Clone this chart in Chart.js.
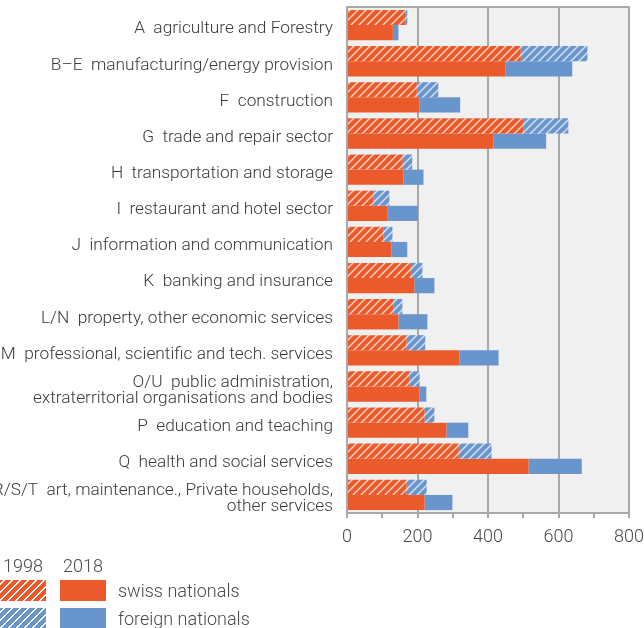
<!DOCTYPE html>
<html>
<head>
<meta charset="utf-8">
<script src="https://cdn.jsdelivr.net/npm/chart.js@4"></script>
<style>
  html, body { margin: 0; padding: 0; background: #fff; overflow: hidden; }
  #wrap { position: relative; width: 644px; height: 628px; }
  #legend { position: absolute; left: 0; top: 0; width: 644px; height: 628px; pointer-events: none;
    font-family: Roboto, sans-serif; font-weight: 300; font-size: 18px; color: #4a4a4a; }
  .lg { position: absolute; line-height: 20px; }
  .sw { position: absolute; height: 21px; }
</style>
</head>
<body>
<div id="wrap">
  <canvas id="myChart" width="644" height="628"></canvas>
  <div id="legend"></div>
</div>
<script>
var categories = [
  "A  agriculture and Forestry",
  "B\u2013E  manufacturing/energy provision",
  "F  construction",
  "G  trade and repair sector",
  "H  transportation and storage",
  "I  restaurant and hotel sector",
  "J  information and communication",
  "K  banking and insurance",
  "L/N  property, other economic services",
  "M  professional, scientific and tech. services",
  ["O/U  public administration,", "extraterritorial organisations and bodies"],
  "P  education and teaching",
  "Q  health and social services",
  ["R/S/T  art, maintenance., Private households,", "other services"]
];

// 1998 (hatched)
var swiss1998 = [165, 493, 198, 500, 158, 75, 103, 181, 132, 169, 177, 220, 317, 169];
var foreign1998 = [6, 189, 61, 128, 27, 45, 26, 33, 25, 53, 29, 28, 93, 57];
// 2018 (solid)
var swiss2018 = [130, 449, 205, 415, 160, 114, 126, 191, 146, 319, 205, 282, 515, 220];
var foreign2018 = [16, 190, 116, 150, 57, 87, 45, 57, 82, 111, 20, 62, 151, 79];

var xTicks = [0, 200, 400, 600, 800];

var ORANGE = "#EA5A2B";
var BLUE = "#6995CD";
var GRID = "#A8A8A8";

function hatch(color) {
  var c = document.createElement("canvas");
  c.width = 8;
  c.height = 8;
  var g = c.getContext("2d");
  g.fillStyle = color;
  g.fillRect(0, 0, 8, 8);
  g.strokeStyle = "rgba(255,255,255,0.75)";
  g.lineWidth = 1.4;
  g.beginPath();
  g.moveTo(0, 8); g.lineTo(8, 0);
  g.moveTo(-4, 4); g.lineTo(4, -4);
  g.moveTo(4, 12); g.lineTo(12, 4);
  g.stroke();
  return document.getElementById("myChart").getContext("2d").createPattern(c, "repeat");
}

// plot background + frame
var plotFrame = {
  id: "plotFrame",
  beforeDraw: function (chart) {
    var a = chart.chartArea, ctx = chart.ctx;
    ctx.save();
    ctx.fillStyle = "#F0F0F0";
    ctx.fillRect(a.left, a.top, a.right - a.left, a.bottom - a.top);
    ctx.restore();
  },
  afterDatasetsDraw: function (chart) {
    var a = chart.chartArea, ctx = chart.ctx;
    ctx.save();
    ctx.strokeStyle = GRID;
    ctx.lineWidth = 2;
    ctx.strokeRect(a.left, a.top, a.right - a.left, a.bottom - a.top);
    ctx.restore();
  }
};

var ctx = document.getElementById("myChart").getContext("2d");
var myChart = new Chart(ctx, {
  type: "bar",
  data: {
    labels: categories,
    datasets: [
      { label: "swiss nationals 1998", data: swiss1998, stack: "1998", backgroundColor: hatch(ORANGE) },
      { label: "foreign nationals 1998", data: foreign1998, stack: "1998", backgroundColor: hatch(BLUE) },
      { label: "swiss nationals 2018", data: swiss2018, stack: "2018", backgroundColor: ORANGE },
      { label: "foreign nationals 2018", data: foreign2018, stack: "2018", backgroundColor: BLUE }
    ]
  },
  options: {
    indexAxis: "y",
    responsive: false,
    animation: false,
    devicePixelRatio: 1,
    categoryPercentage: 0.84,
    barPercentage: 1.0,
    layout: { padding: { left: 0, right: 15, top: 7, bottom: 75 } },
    plugins: { legend: { display: false }, tooltip: { enabled: false } },
    scales: {
      x: {
        stacked: true,
        min: 0,
        max: 800,
        ticks: {
          stepSize: 100,
          autoSkip: false,
          maxRotation: 0,
          padding: 9,
          color: "#4a4a4a",
          font: { family: "Roboto", size: 18, weight: 300 },
          callback: function (v) { return xTicks.indexOf(v) >= 0 ? String(v) : ""; }
        },
        grid: {
          color: function (c) { return c.tick && xTicks.indexOf(c.tick.value) >= 0 ? GRID : "rgba(0,0,0,0)"; },
          tickColor: GRID,
          lineWidth: 2,
          tickLength: 5
        },
        border: { display: true, color: GRID, width: 2 },
        afterFit: function (s) { s.paddingLeft = 0; s.paddingRight = 0; s.height = 40; }
      },
      y: {
        stacked: true,
        ticks: {
          autoSkip: false,
          padding: 14,
          labelOffset: 4,
          color: "#3a3a3a",
          font: { family: "Roboto", size: 17.3, weight: 300, lineHeight: 0.94 }
        },
        grid: { display: false, drawTicks: false },
        border: { display: true, color: GRID, width: 2 },
        afterFit: function (s) { s.width = 347; s.paddingTop = 0; s.paddingBottom = 0; }
      }
    }
  },
  plugins: [plotFrame]
});

// legend drawn as html below the chart
var legendItems = [
  { text: "1998", left: 3, top: 556 },
  { text: "2018", left: 63, top: 556 },
  { text: "swiss nationals", left: 118, top: 581 },
  { text: "foreign nationals", left: 118, top: 609 }
];
var legend = document.getElementById("legend");
legendItems.forEach(function (it) {
  var d = document.createElement("div");
  d.className = "lg";
  d.textContent = it.text;
  d.style.left = it.left + "px";
  d.style.top = it.top + "px";
  legend.appendChild(d);
});
var hatchCss = function (c) {
  return "repeating-linear-gradient(-45deg, " + c + " 0 4px, rgba(255,255,255,0.75) 4px 5.2px, " + c + " 5.2px 5.66px)";
};
[
  { left: -10, top: 580, w: 56, bg: hatchCss(ORANGE) },
  { left: 60, top: 580, w: 46, bg: ORANGE },
  { left: -10, top: 608, w: 56, bg: hatchCss(BLUE) },
  { left: 60, top: 608, w: 46, bg: BLUE }
].forEach(function (s) {
  var d = document.createElement("div");
  d.className = "sw";
  d.style.left = s.left + "px";
  d.style.top = s.top + "px";
  d.style.width = s.w + "px";
  d.style.background = s.bg;
  legend.appendChild(d);
});
</script>
</body>
</html>
